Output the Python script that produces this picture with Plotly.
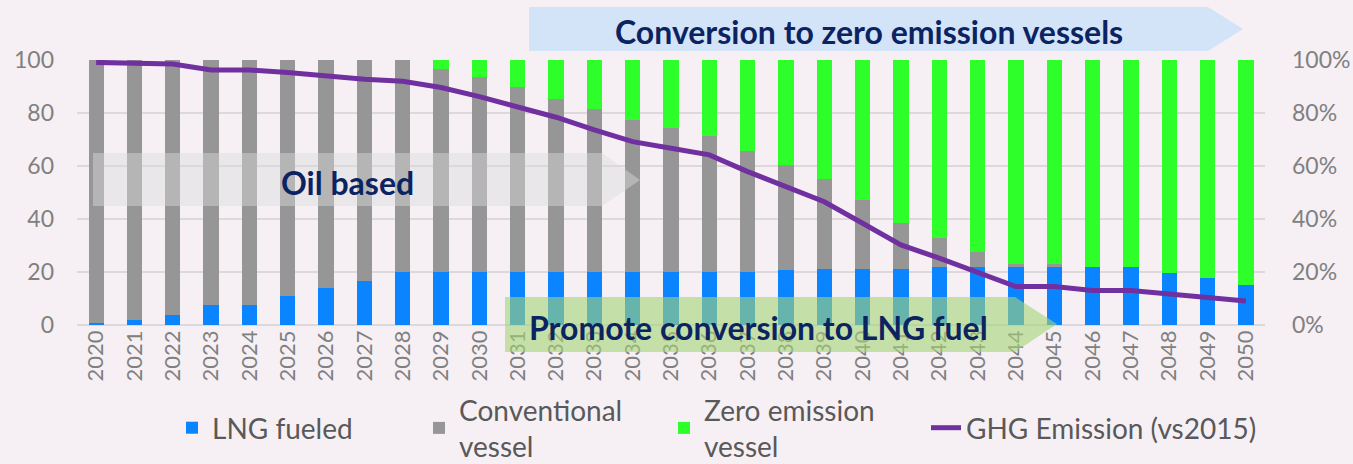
import plotly.graph_objects as go

years = [str(y) for y in range(2020, 2051)]

lng_fueled = [0.6, 1.8, 3.8, 7.5, 7.5, 11, 14, 16.7, 20, 20, 20,
              20, 20, 20, 20, 20, 20, 20, 20.7, 21, 21,
              21, 21.8, 22, 22, 22, 22, 22, 19.7, 17.7, 15.2]
conventional = [99.4, 98.2, 96.2, 92.5, 92.5, 89, 86, 83.3, 80, 76.5, 73.7,
                69.7, 65.4, 61.5, 57.2, 54.3, 51.4, 45.7, 39.6, 34, 26.2,
                17.6, 11, 5.4, 0.9, 0.9, 0, 0, 0, 0, 0]
zero_emission = [0, 0, 0, 0, 0, 0, 0, 0, 0, 3.5, 6.3,
                 10.3, 14.6, 18.5, 22.8, 25.7, 28.6, 34.3, 39.7, 45, 52.8,
                 61.4, 67.2, 72.6, 77.1, 77.1, 78, 78, 80.3, 82.3, 84.8]
ghg_emission = [0.991, 0.99, 0.985, 0.962, 0.962, 0.953, 0.94, 0.927, 0.92, 0.896, 0.862,
                0.824, 0.784, 0.736, 0.692, 0.667, 0.642, 0.579, 0.522, 0.465, 0.384,
                0.302, 0.252, 0.201, 0.145, 0.145, 0.13, 0.13, 0.117, 0.104, 0.091]

BG = "#F6F0F5"
TICK = "#808080"
NAVY = "#0B2461"
FONT = "Lato"

fig = go.Figure()
fig.add_trace(go.Bar(x=years, y=lng_fueled, name="LNG fueled", showlegend=True,
                     marker=dict(color="#0A84FF", line=dict(width=0)), legend="legend"))
fig.add_trace(go.Bar(x=years, y=conventional, name="Conventional<br>vessel", showlegend=True,
                     marker=dict(color="#969696", line=dict(width=0)), legend="legend2"))
fig.add_trace(go.Bar(x=years, y=zero_emission, name="Zero emission<br>vessel", showlegend=True,
                     marker=dict(color="#2EFF2A", line=dict(width=0)), legend="legend3"))
fig.add_trace(go.Scatter(x=years, y=ghg_emission, name="GHG Emission (vs2015)", yaxis="y2",
                         mode="lines", line=dict(color="#7030A0", width=5), showlegend=True,
                         legend="legend4"))

L, R, T, B = 77, 1265, 60, 325
W = R - L
H = B - T


def px(xp):
    return (xp - L) / W


def py(yp):
    return (B - yp) / H


def arrow(x0, x1, x2, y0, y1, ym):
    return ("M {a},{b} L {c},{b} L {d},{m} L {c},{e} L {a},{e} Z"
            .format(a=px(x0), c=px(x1), d=px(x2), b=py(y0), e=py(y1), m=py(ym)))


shapes = [
    dict(type="path", xref="paper", yref="paper", layer="above",
         path=arrow(529, 1208, 1243, 7, 51, 29),
         fillcolor="#D3E3F8", line=dict(width=0)),
    dict(type="path", xref="paper", yref="paper", layer="above",
         path=arrow(93, 602, 640, 153, 206, 180),
         fillcolor="rgba(220,220,222,0.45)", line=dict(width=0)),
    dict(type="path", xref="paper", yref="paper", layer="above",
         path=arrow(505, 1015, 1057, 297, 352, 324),
         fillcolor="rgba(165,212,118,0.6)", line=dict(width=0)),
]

ann_common = dict(xref="paper", yref="paper", showarrow=False,
                  xanchor="center", yanchor="middle",
                  font=dict(family=FONT, size=32, color=NAVY))
annotations = [
    dict(x=px(869), y=py(31), text="<b>Conversion to zero emission vessels</b>", **ann_common),
    dict(x=px(347), y=py(182), text="<b>Oil based</b>", **ann_common),
    dict(x=px(758), y=py(327), text="<b>Promote conversion to LNG fuel</b>", **ann_common),
]

leg_common = dict(orientation="h", yanchor="middle", xanchor="left",
                  bgcolor="rgba(0,0,0,0)", font=dict(family=FONT, size=28, color="#595959"),
                  itemclick=False, itemdoubleclick=False)

fig.update_layout(
    width=1353, height=464,
    margin=dict(l=L, r=1353 - R, t=T, b=464 - B, autoexpand=False),
    paper_bgcolor=BG, plot_bgcolor=BG,
    showlegend=True,
    barmode="stack", bargap=0.6,
    font=dict(family=FONT, color=TICK),
    xaxis=dict(type="category", tickangle=-90, tickfont=dict(size=22, color=TICK),
               showgrid=False, showline=False, ticks="", automargin=False),
    yaxis=dict(range=[0, 100], dtick=20, tickfont=dict(size=23, color=TICK),
               gridcolor="#DCD8DC", gridwidth=2, zeroline=True, zerolinecolor="#DCD8DC",
               zerolinewidth=2, ticks="", ticklabelstandoff=22, automargin=False),
    yaxis2=dict(range=[0, 1], dtick=0.2, tickformat=".0%", overlaying="y", side="right",
                showgrid=False, zeroline=False, tickfont=dict(size=23, color=TICK), ticks="",
                ticklabelstandoff=26, automargin=False),
    legend=dict(x=px(172), y=py(428), **leg_common),
    legend2=dict(x=px(419), y=py(428), **leg_common),
    legend3=dict(x=px(664), y=py(428), **leg_common),
    legend4=dict(x=px(926), y=py(428), **leg_common),
    shapes=shapes,
    annotations=annotations,
)

fig.write_html(
    "out.html",
    config={"displayModeBar": False},
    post_script="document.body.style.margin='0';document.body.style.background='%s';" % BG,
)
